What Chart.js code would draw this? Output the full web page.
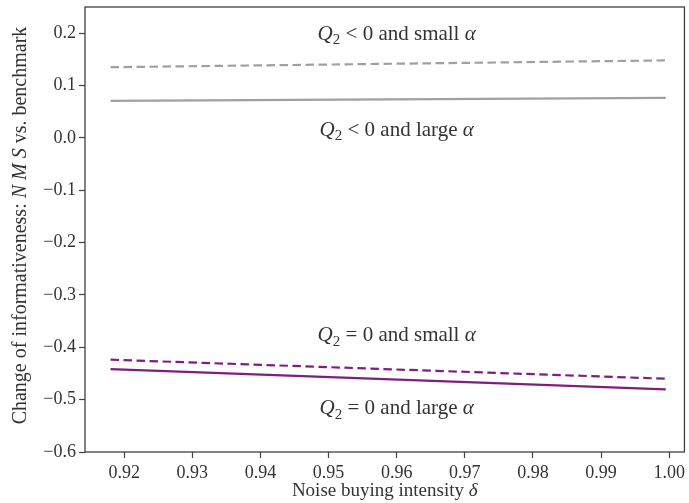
<!DOCTYPE html>
<html>
<head>
<meta charset="utf-8">
<script src="https://cdn.jsdelivr.net/npm/chart.js@4"></script>
<style>
  html, body { margin: 0; padding: 0; background: #fff; }
  #wrap { width: 689px; height: 503px; }
</style>
</head>
<body>
<div id="wrap"><canvas id="myChart" width="689" height="503"></canvas></div>
<script>
// noise buying intensity (x) and change of informativeness for each case
const delta = [0.918, 0.9995];
const negSmall = [0.135, 0.148];     // Q2 < 0, small alpha (dashed grey)
const negLarge = [0.0707, 0.0765];   // Q2 < 0, large alpha (solid grey)
const zeroSmall = [-0.4237, -0.460]; // Q2 = 0, small alpha (dashed purple)
const zeroLarge = [-0.4417, -0.4805];// Q2 = 0, large alpha (solid purple)

const xTicks = [0.92, 0.93, 0.94, 0.95, 0.96, 0.97, 0.98, 0.99, 1.00];
const yTicks = [-0.6, -0.5, -0.4, -0.3, -0.2, -0.1, 0.0, 0.1, 0.2];
const xRange = [0.91425, 1.00224];
const yRange = [-0.6, 0.25];

const SERIF = '"Liberation Serif", "DejaVu Serif", serif';
const INK = '#333333';
const GREY = '#a0a0a0';
const PURPLE = '#7e1e80';
const DASH = [8.5, 4.5];

function pts(xs, ys) {
    return xs.map((x, i) => ({ x: x, y: ys[i] }));
}

// text runs: [text, style] where style is '', 'i' (italic) or 'sub'
function cases(rel, size) {
    return [['Q', 'i'], ['2', 'sub'], [' ' + rel + ' 0 and ' + size + ' ', ''], ['α', 'i']];
}
const notes = [
    { x: 0.96, y: 0.198, runs: cases('<', 'small') },
    { x: 0.96, y: 0.0147, runs: cases('<', 'large') },
    { x: 0.96, y: -0.3775, runs: cases('=', 'small') },
    { x: 0.96, y: -0.517, runs: cases('=', 'large') },
];

function runFont(style, px) {
    if (style === 'i') return 'italic ' + px + 'px ' + SERIF;
    if (style === 'sub') return Math.round(px * 0.72) + 'px ' + SERIF;
    return px + 'px ' + SERIF;
}

function drawRuns(ctx, runs, cx, cy, px) {
    let w = 0;
    runs.forEach(r => { ctx.font = runFont(r[1], px); w += ctx.measureText(r[0]).width; });
    let x = cx - w / 2;
    ctx.textBaseline = 'middle';
    ctx.textAlign = 'left';
    runs.forEach(r => {
        ctx.font = runFont(r[1], px);
        const dy = r[1] === 'sub' ? px * 0.3 : 0;
        ctx.fillText(r[0], x, cy + dy);
        x += ctx.measureText(r[0]).width;
    });
}

const decorations = {
    id: 'decorations',
    afterDraw(chart) {
        const ctx = chart.ctx;
        const a = chart.chartArea;
        const xs = chart.scales.x, ys = chart.scales.y;
        ctx.save();
        // frame around the plot
        ctx.strokeStyle = '#404040';
        ctx.lineWidth = 1.3;
        ctx.strokeRect(a.left, a.top, a.right - a.left, a.bottom - a.top);

        ctx.fillStyle = INK;
        notes.forEach(n => {
            drawRuns(ctx, n.runs, xs.getPixelForValue(n.x), ys.getPixelForValue(n.y), 21);
        });

        // axis titles
        drawRuns(ctx, [['Noise buying intensity ', ''], ['δ', 'i']], (a.left + a.right) / 2, 491, 19);
        ctx.translate(21, (a.top + a.bottom) / 2 - 4);
        ctx.rotate(-Math.PI / 2);
        drawRuns(ctx, [['Change of informativeness: ', ''], ['N M S', 'i'], [' vs. benchmark', '']], 0, 0, 20);
        ctx.restore();
    }
};

function fmt(v, d) {
    const s = Math.abs(v).toFixed(d);
    return (v < -1e-9 ? '−' : '') + s;
}

function fixedTicks(list) {
    return scale => { scale.ticks = list.map(v => ({ value: v })); };
}

new Chart(document.getElementById('myChart'), {
    type: 'line',
    data: {
        datasets: [
            { data: pts(delta, negSmall), borderColor: GREY, borderDash: DASH },
            { data: pts(delta, negLarge), borderColor: GREY },
            { data: pts(delta, zeroSmall), borderColor: PURPLE, borderDash: DASH },
            { data: pts(delta, zeroLarge), borderColor: PURPLE },
        ]
    },
    options: {
        responsive: false,
        animation: false,
        layout: { padding: { top: 7, right: 3, left: 0, bottom: 0 } },
        elements: {
            point: { radius: 0 },
            line: { borderWidth: 2.2, tension: 0, borderCapStyle: 'butt' }
        },
        plugins: { legend: { display: false }, tooltip: { enabled: false } },
        scales: {
            x: {
                type: 'linear',
                min: xRange[0], max: xRange[1],
                afterBuildTicks: fixedTicks(xTicks),
                grid: { drawOnChartArea: false, drawTicks: true, tickLength: 6, tickColor: '#404040', tickWidth: 1.2 },
                border: { display: false },
                ticks: {
                    padding: 4, maxRotation: 0, autoSkip: false,
                    color: INK, font: { family: SERIF, size: 18 },
                    callback: v => fmt(v, 2)
                },
                afterFit: s => { s.height = 51; }
            },
            y: {
                min: yRange[0], max: yRange[1],
                afterBuildTicks: fixedTicks(yTicks),
                grid: { drawOnChartArea: false, drawTicks: true, tickLength: 6, tickColor: '#404040', tickWidth: 1.2 },
                border: { display: false },
                ticks: {
                    padding: 3, autoSkip: false,
                    color: INK, font: { family: SERIF, size: 18 },
                    callback: v => fmt(v, 1)
                },
                // tick labels sit well inside the range, so no extra top padding
                afterFit: s => { s.width = 85; s.paddingTop = 0; s.paddingBottom = 0; }
            }
        }
    },
    plugins: [decorations]
});
</script>
</body>
</html>
